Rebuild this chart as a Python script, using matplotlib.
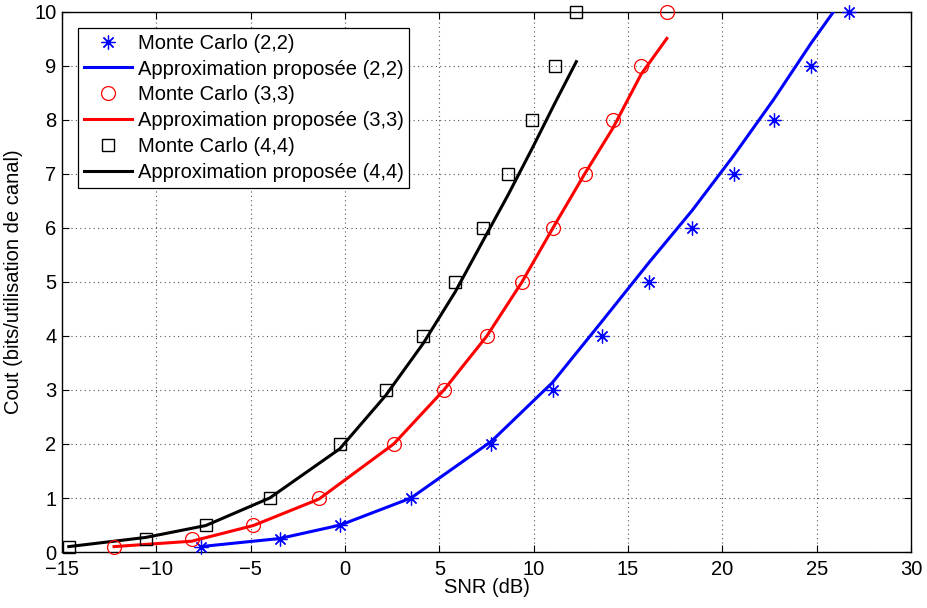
import matplotlib
matplotlib.use("Agg")
import matplotlib.pyplot as plt

plt.rcParams['font.family'] = ['Liberation Sans', 'DejaVu Sans']

# Monte Carlo (2,2)
snr_mc22 = [-7.65, -3.46, -0.24, 3.5, 7.76, 11.0, 13.64, 16.11, 18.39, 20.6, 22.72, 24.7, 26.7]
cap_mc22 = [0.1, 0.25, 0.5, 1, 2, 3, 4, 5, 6, 7, 8, 9, 10]
# Approximation (2,2)
snr_ap22 = snr_mc22
cap_ap22 = [0.1, 0.25, 0.5, 1.0, 2.05, 3.14, 4.28, 5.36, 6.32, 7.34, 8.38, 9.42, 10.4]

# Monte Carlo (3,3)
snr_mc33 = [-12.24, -8.12, -4.86, -1.38, 2.58, 5.24, 7.52, 9.38, 11.02, 12.7, 14.2, 15.7, 17.06]
cap_mc33 = [0.1, 0.25, 0.5, 1, 2, 3, 4, 5, 6, 7, 8, 9, 10]
snr_ap33 = snr_mc33
cap_ap33 = [0.1, 0.2, 0.49, 0.98, 2.0, 3.0, 4.0, 5.0, 6.0, 7.0, 7.85, 8.85, 9.51]

# Monte Carlo (4,4)
snr_mc44 = [-14.64, -10.56, -7.38, -3.99, -0.28, 2.16, 4.14, 5.83, 7.31, 8.64, 9.93, 11.15, 12.26]
cap_mc44 = [0.1, 0.25, 0.5, 1, 2, 3, 4, 5, 6, 7, 8, 9, 10]
snr_ap44 = snr_mc44
cap_ap44 = [0.1, 0.27, 0.49, 1.0, 1.91, 2.9, 3.86, 4.81, 5.76, 6.61, 7.48, 8.33, 9.08]

x_ticks = [-15, -10, -5, 0, 5, 10, 15, 20, 25, 30]
x_tick_labels = ['\u221215', '\u221210', '\u22125', '0', '5', '10', '15', '20', '25', '30']
y_ticks = list(range(0, 11))

fig = plt.figure(figsize=(9.28, 6.08), dpi=100)
ax = fig.add_axes([0.0668, 0.0921, 0.9149, 0.8882])

star = (8, 2, 0)
ax.plot(snr_mc22, cap_mc22, linestyle='none', marker=star, markersize=10,
        markeredgewidth=0.9, color=(0, 0, 1), label='Monte Carlo (2,2)', clip_on=False, zorder=4)
ax.plot(snr_ap22, cap_ap22, '-', lw=2.2, color=(0, 0, 1), label='Approximation proposée (2,2)', zorder=3)
ax.plot(snr_mc33, cap_mc33, linestyle='none', marker='o', markersize=10, markerfacecolor='none',
        markeredgewidth=0.9, color=(1, 0, 0), label='Monte Carlo (3,3)', clip_on=False, zorder=4)
ax.plot(snr_ap33, cap_ap33, '-', lw=2.2, color=(1, 0, 0), label='Approximation proposée (3,3)', zorder=3)
ax.plot(snr_mc44, cap_mc44, linestyle='none', marker='s', markersize=8, markerfacecolor='none',
        markeredgewidth=1.0, color='black', label='Monte Carlo (4,4)', clip_on=False, zorder=4)
ax.plot(snr_ap44, cap_ap44, '-', lw=2.2, color='black', label='Approximation proposée (4,4)', zorder=3)

ax.set_xlim(-15, 30)
ax.set_ylim(0, 10)
ax.set_xticks(x_ticks)
ax.set_xticklabels(x_tick_labels)
ax.set_yticks(y_ticks)
ax.tick_params(direction='in', length=5, width=0.8, top=True, right=True, labelsize=14.5, pad=4)
ax.tick_params(axis='x', pad=6)
ax.grid(True, linestyle=(0, (1, 3)), color='#555555', linewidth=0.8)
for s in ax.spines.values():
    s.set_linewidth(1.0)

ax.set_xlabel('SNR (dB)', fontsize=14.5, labelpad=-1)
ax.set_ylabel('Cout (bits/utilisation de canal)', fontsize=14.5, labelpad=8)

leg = ax.legend(loc='upper left', bbox_to_anchor=(0.019, 0.971), fontsize=14.5, frameon=True,
                fancybox=False, edgecolor='black', framealpha=1, handlelength=2.4,
                handletextpad=0.25, labelspacing=0.34, borderpad=0.3, borderaxespad=0)
leg.get_frame().set_linewidth(0.9)

fig.savefig('out.png', dpi=100)
